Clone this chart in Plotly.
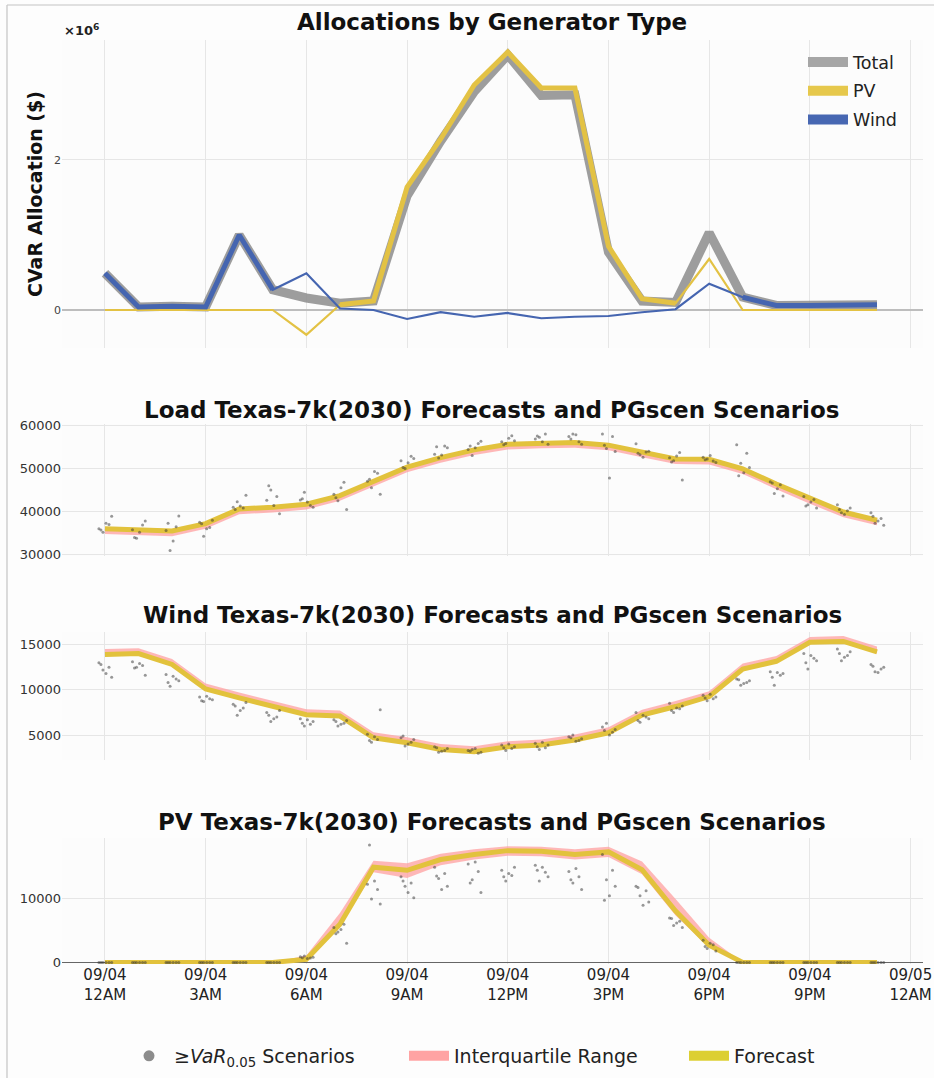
import plotly.graph_objects as go

# ---------------- data ----------------
hours = list(range(24))
tick_hours = [0, 3, 6, 9, 12, 15, 18, 21, 24]
tick_labels = ["09/04<br>12AM", "09/04<br>3AM", "09/04<br>6AM", "09/04<br>9AM",
               "09/04<br>12PM", "09/04<br>3PM", "09/04<br>6PM", "09/04<br>9PM",
               "09/05<br>12AM"]

# CVaR allocations (millions of $)
total_alloc = [0.49, 0.04, 0.05, 0.04, 1.00, 0.27, 0.16, 0.09, 0.12, 1.52, 2.25, 2.91,
               3.40, 2.86, 2.87, 0.77, 0.12, 0.10, 1.03, 0.17, 0.06, 0.06, 0.06, 0.07]
pv_alloc = [0.0, 0.0, 0.0, 0.0, 0.0, 0.0, -0.33, 0.07, 0.12, 1.64, 2.28, 3.00,
            3.44, 2.96, 2.96, 0.85, 0.15, 0.09, 0.68, 0.0, 0.0, 0.0, 0.0, 0.0]
wind_alloc = [0.49, 0.04, 0.05, 0.04, 1.00, 0.27, 0.49, 0.02, 0.00, -0.12, -0.03, -0.09,
              -0.04, -0.11, -0.09, -0.08, -0.03, 0.01, 0.35, 0.17, 0.06, 0.06, 0.06, 0.07]

# Load
load_fc = [36000, 35700, 35500, 37200, 40600, 41000, 41700, 43700, 47000, 50300, 52500, 54300,
           55600, 55900, 56000, 55400, 53800, 52200, 52100, 49900, 46400, 43000, 39900, 38000]
load_q25 = [34800, 34500, 34300, 36000, 39400, 39800, 40500, 42500, 45800, 49100, 51300, 53100,
            54400, 54700, 54800, 54200, 52600, 51000, 50900, 48700, 45200, 41800, 38700, 36800]
load_q75 = [36400, 36100, 35900, 37600, 41000, 41400, 42100, 44100, 47400, 50700, 52900, 54700,
            56000, 56300, 56400, 55800, 54200, 52600, 52500, 50300, 46800, 43400, 40300, 38400]
load_scen = [
    [36000, 37000, 35200, 38900, 37300, 35700],
    [35800, 36900, 33800, 37800, 35200, 34000],
    [35600, 36500, 31000, 39000, 33200, 37300],
    [37500, 36300, 34300, 38000, 36000, 37200],
    [41000, 40800, 42300, 43800, 41300, 40500],
    [42600, 43500, 45000, 39500, 41400, 46000],
    [42700, 41400, 44500, 41000, 42200, 43000],
    [44000, 46800, 42500, 40500, 45500, 43200],
    [47000, 48900, 45500, 44000, 49300, 47500],
    [51800, 52800, 50000, 52300, 51300, 50200],
    [53300, 55200, 52400, 54800, 53100, 55000],
    [54400, 55800, 53000, 56300, 54800, 55200],
    [56200, 57600, 55800, 56400, 57000, 55500],
    [56800, 58000, 57200, 55600, 56200, 57500],
    [57400, 56200, 58000, 55600, 57800, 56800],
    [58000, 57400, 54600, 53900, 47800, 55400],
    [55700, 53800, 53200, 54000, 52600, 53500],
    [52500, 53700, 51800, 47300, 52900, 51500],
    [52600, 51700, 52200, 51400, 53000, 52000],
    [55500, 53500, 51200, 50200, 49000, 48300],
    [46900, 46200, 44200, 43600, 45300, 46600],
    [43500, 42800, 41600, 40800, 42200, 41300],
    [41600, 40200, 39700, 40800, 39300, 40500],
    [39700, 38400, 37300, 36800, 37800, 38900],
]

# Wind
wind_fc = [13900, 14000, 12800, 10100, 9100, 8150, 7250, 7100, 4700, 4150, 3400, 3150,
           3700, 3900, 4450, 5250, 7200, 8150, 9250, 12300, 13150, 15250, 15350, 14200]
wind_q25 = [13700, 13800, 12600, 9900, 8900, 7950, 7050, 6900, 4500, 3950, 3200, 2950,
            3500, 3700, 4250, 5050, 7000, 7950, 9050, 12100, 12950, 15050, 15150, 14000]
wind_q75 = [14500, 14600, 13400, 10700, 9700, 8750, 7850, 7700, 5300, 4750, 4000, 3750,
            4300, 4500, 5050, 5850, 7800, 8750, 9850, 12900, 13750, 15850, 15950, 14800]
wind_scen = [
    [13000, 12500, 12200, 11400, 11800, 12800],
    [13100, 12700, 12500, 11600, 12900, 12400],
    [11700, 11200, 10400, 11000, 11500, 10800],
    [9200, 9000, 8700, 8900, 9300, 8800],
    [8400, 8000, 7200, 8600, 7700, 8200],
    [7500, 7000, 6500, 7700, 6800, 7200],
    [6800, 6200, 6000, 6500, 6700, 6300],
    [6700, 6300, 6000, 6600, 6200, 6500],
    [5100, 4500, 4200, 7800, 4800, 4400],
    [4700, 4200, 3800, 4500, 4000, 4900],
    [3700, 3300, 3100, 3500, 3200, 3600],
    [3300, 3000, 3400, 3100, 3500, 3200],
    [3900, 3500, 3300, 3700, 4000, 3600],
    [4100, 3600, 3400, 3900, 4200, 3700],
    [4800, 4400, 5000, 4600, 4300, 4700],
    [5900, 5300, 6300, 5600, 5000, 5500],
    [7500, 7000, 6400, 6800, 7200, 6600],
    [8500, 7900, 7500, 8200, 8000, 7700],
    [9400, 9000, 8800, 9200, 9500, 9100],
    [11200, 10800, 10500, 11000, 10700, 11100],
    [12000, 11600, 10500, 11800, 11900, 11400],
    [14000, 13500, 12300, 13200, 13800, 13000],
    [14500, 13800, 13200, 14200, 13600, 14000],
    [12800, 12300, 12000, 12500, 11900, 12600],
]

# PV
pv_fc = [0, 0, 0, 0, 0, 0, 500, 6000, 15000, 14500, 16200, 17000,
         17600, 17500, 17000, 17400, 14600, 8100, 2700, 0, 0, 0, 0, 0]
pv_q25 = [0, 0, 0, 0, 0, 0, 400, 5600, 14200, 13300, 15300, 16200,
          16800, 16700, 16200, 16600, 13900, 7400, 2300, 0, 0, 0, 0, 0]
pv_q75 = [0, 0, 0, 0, 0, 0, 1100, 7800, 16000, 15600, 17100, 17800,
          18300, 18200, 17800, 18200, 15900, 10000, 3900, 0, 0, 0, 0, 0]
pv_scen = [
    [0, 0, 0, 0, 0, 0], [0, 0, 0, 0, 0, 0], [0, 0, 0, 0, 0, 0],
    [0, 0, 0, 0, 0, 0], [0, 0, 0, 0, 0, 0], [0, 0, 0, 0, 0, 0],
    [900, 700, 1000, 800, 600, 750],
    [5500, 6000, 4800, 3000, 5200, 4500],
    [12300, 11500, 10000, 9200, 12800, 18500],
    [13500, 12500, 12000, 10200, 11000, 12800],
    [15000, 14000, 13200, 12000, 11500, 13600],
    [15500, 14300, 13000, 11000, 15800, 12500],
    [14500, 13700, 12800, 15000, 14000, 13500],
    [15300, 14200, 12800, 13500, 15000, 14500],
    [14300, 13500, 12500, 11500, 14800, 13000],
    [17000, 14500, 13000, 12000, 10500, 9800],
    [12000, 11300, 10500, 9500, 9000, 11800],
    [7000, 6500, 5800, 5500, 6200, 6900],
    [3500, 2800, 2200, 1800, 3000, 2500],
    [0, 0, 0, 0, 0, 0], [0, 0, 0, 0, 0, 0], [0, 0, 0, 0, 0, 0],
    [0, 0, 0, 0, 0, 0], [0, 0, 0, 0, 0, 0],
]

# ---------------- layout helpers ----------------
W, H = 934, 1078
ML, MR = 62, 11
PW = W - ML - MR


def px_x(p):
    return (p - ML) / PW


def px_y(p):
    return 1 - p / H


FONT = "DejaVu Sans"
GRID = "#e6e6e6"
FC_COLOR = "#e2c23c"
IQR_FILL = "rgba(255,160,160,0.75)"
DOT_COLOR = "rgba(50,50,50,0.5)"
JITTER = [-0.18, 0.12, -0.06, 0.2, 0.03, -0.12]

fig = go.Figure()

# ---------- top panel ----------
fig.add_trace(go.Scatter(x=hours, y=total_alloc, mode="lines", xaxis="x", yaxis="y",
                         line=dict(color="rgba(140,140,140,0.85)", width=9),
                         showlegend=False, hoverinfo="skip"))


def thick_series(vals, tot):
    out = []
    for v, t in zip(vals, tot):
        share = v / t if t != 0 else 0
        out.append(v if 0.75 <= share <= 1.25 else None)
    return out


for vals, col in [(pv_alloc, "#e3c244"), (wind_alloc, "#4565b0")]:
    fig.add_trace(go.Scatter(x=hours, y=vals, mode="lines", xaxis="x", yaxis="y",
                             line=dict(color=col, width=2.2), showlegend=False,
                             hoverinfo="skip"))
    fig.add_trace(go.Scatter(x=hours, y=thick_series(vals, total_alloc), mode="lines",
                             xaxis="x", yaxis="y", connectgaps=False,
                             line=dict(color=col, width=5), showlegend=False,
                             hoverinfo="skip"))

for name, col in [("Total", "#a6a6a6"), ("PV", "#e6c84c"), ("Wind", "#4767b2")]:
    fig.add_trace(go.Scatter(x=[None], y=[None], mode="lines", name=name, xaxis="x",
                             yaxis="y", line=dict(color=col, width=13), legend="legend",
                             legendgroup=name))

# ---------- forecast panels ----------
panels = [
    (load_fc, load_q25, load_q75, load_scen, "2"),
    (wind_fc, wind_q25, wind_q75, wind_scen, "3"),
    (pv_fc, pv_q25, pv_q75, pv_scen, "4"),
]
for fc, q25, q75, scen, n in panels:
    xa, ya = "x" + n, "y" + n
    fig.add_trace(go.Scatter(x=hours, y=q75, mode="lines", xaxis=xa, yaxis=ya,
                             line=dict(width=0, color=IQR_FILL), showlegend=False,
                             hoverinfo="skip"))
    fig.add_trace(go.Scatter(x=hours, y=q25, mode="lines", xaxis=xa, yaxis=ya,
                             fill="tonexty", fillcolor=IQR_FILL,
                             line=dict(width=0, color=IQR_FILL), showlegend=False,
                             hoverinfo="skip"))
    fig.add_trace(go.Scatter(x=hours, y=fc, mode="lines", xaxis=xa, yaxis=ya,
                             line=dict(width=5, color=FC_COLOR), showlegend=False,
                             hoverinfo="skip"))
    sx, sy = [], []
    for h, vals in zip(hours, scen):
        for j, v in enumerate(vals):
            sx.append(h + JITTER[j % len(JITTER)])
            sy.append(v)
    fig.add_trace(go.Scatter(x=sx, y=sy, mode="markers", xaxis=xa, yaxis=ya,
                             marker=dict(size=3, color=DOT_COLOR), showlegend=False,
                             hoverinfo="skip"))

# bottom legend entries
fig.add_trace(go.Scatter(x=[None], y=[None], mode="markers", xaxis="x4", yaxis="y4",
                         name="≥<i>VaR</i><sub>0.05</sub> Scenarios", legend="legend2",
                         marker=dict(size=11, color="#8c8c8c")))
fig.add_trace(go.Scatter(x=[None], y=[None], mode="lines", xaxis="x4", yaxis="y4",
                         name="Interquartile Range", legend="legend2",
                         line=dict(color="#ffa3a3", width=12)))
fig.add_trace(go.Scatter(x=[None], y=[None], mode="lines", xaxis="x4", yaxis="y4",
                         name="Forecast", legend="legend2",
                         line=dict(color="#dccf32", width=12)))

# ---------- axes ----------
XR = [-1.28, 24.37]
domains = {
    "1": (40, 348),
    "2": (424, 556),
    "3": (632, 760),
    "4": (838, 964),
}
yranges = {
    "1": [-0.507, 3.6],
    "2": [29700, 60300],
    "3": [2240, 16390],
    "4": [-250, 19590],
}
yticks = {
    "1": ([0, 2], ["0", "2"]),
    "2": ([30000, 40000, 50000, 60000], ["30000", "40000", "50000", "60000"]),
    "3": ([5000, 10000, 15000], ["5000", "10000", "15000"]),
    "4": ([0, 10000], ["0", "10000"]),
}

layout_axes = {}
for n in ["1", "2", "3", "4"]:
    top, bot = domains[n]
    key = "" if n == "1" else n
    layout_axes["xaxis" + key] = dict(
        domain=[0, 1], range=XR, anchor="y" + key, tickvals=tick_hours,
        ticktext=tick_labels, showticklabels=(n == "4"), showgrid=True,
        gridcolor=GRID, gridwidth=1, zeroline=False, showline=False, ticks="",
        tickfont=dict(family=FONT, size=15, color="#222"),
    )
    tv, tt = yticks[n]
    layout_axes["yaxis" + key] = dict(
        domain=[px_y(bot), px_y(top)], range=yranges[n], anchor="x" + key,
        tickvals=tv, ticktext=tt, showgrid=True, gridcolor=GRID, gridwidth=1,
        zeroline=(n in ("1", "4")), zerolinecolor=("#bdbdbd" if n == "1" else "#666"),
        zerolinewidth=(1.6 if n == "1" else 1.2), showline=False, ticks="",
        tickfont=dict(family=FONT, size=(11 if n == "1" else 13),
                      color=("#444" if n == "1" else "#333")),
    )

titles = [
    ("Allocations by Generator Type", 22),
    ("Load Texas-7k(2030) Forecasts and PGscen Scenarios", 410),
    ("Wind Texas-7k(2030) Forecasts and PGscen Scenarios", 615),
    ("PV Texas-7k(2030) Forecasts and PGscen Scenarios", 822),
]
annotations = []
for text, ypx in titles:
    annotations.append(dict(text=text, x=px_x(492), y=px_y(ypx), xref="paper",
                            yref="paper", xanchor="center", yanchor="middle",
                            showarrow=False,
                            font=dict(family=FONT, size=23, color="#111", weight="bold")))
annotations.append(dict(text="CVaR Allocation ($)", x=px_x(35), y=px_y(194),
                        xref="paper", yref="paper", xanchor="center", yanchor="middle",
                        textangle=-90, showarrow=False,
                        font=dict(family=FONT, size=19, color="#111", weight="bold")))
annotations.append(dict(text="×10<sup>6</sup>", x=px_x(62), y=px_y(30), xref="paper",
                        yref="paper", xanchor="left", yanchor="middle", showarrow=False,
                        font=dict(family=FONT, size=13, color="#222", weight="bold")))

shapes = [
    dict(type="line", xref="paper", yref="paper", x0=px_x(7), x1=px_x(934),
         y0=px_y(5), y1=px_y(5), line=dict(color="#c4c4c4", width=1.2)),
    dict(type="line", xref="paper", yref="paper", x0=px_x(7), x1=px_x(7),
         y0=px_y(5), y1=px_y(1078), line=dict(color="#c4c4c4", width=1.2)),
]

fig.update_layout(
    width=W, height=H,
    margin=dict(l=ML, r=MR, t=0, b=0, autoexpand=False),
    paper_bgcolor="#fdfdfd", plot_bgcolor="#fcfcfc",
    font=dict(family=FONT, color="#222"),
    annotations=annotations, shapes=shapes,
    legend=dict(x=px_x(803), y=px_y(44), xanchor="left", yanchor="top",
                bgcolor="rgba(0,0,0,0)", font=dict(family=FONT, size=17.5, color="#222"),
                itemwidth=40, traceorder="grouped", tracegroupgap=3),
    legend2=dict(orientation="h", x=px_x(124), y=px_y(1056), xanchor="left",
                 yanchor="middle", bgcolor="rgba(0,0,0,0)", traceorder="normal",
                 font=dict(family=FONT, size=19, color="#222"), itemwidth=40,
                 entrywidth=225, entrywidthmode="pixels"),
    **layout_axes,
)

fig.write_html("out.html")
